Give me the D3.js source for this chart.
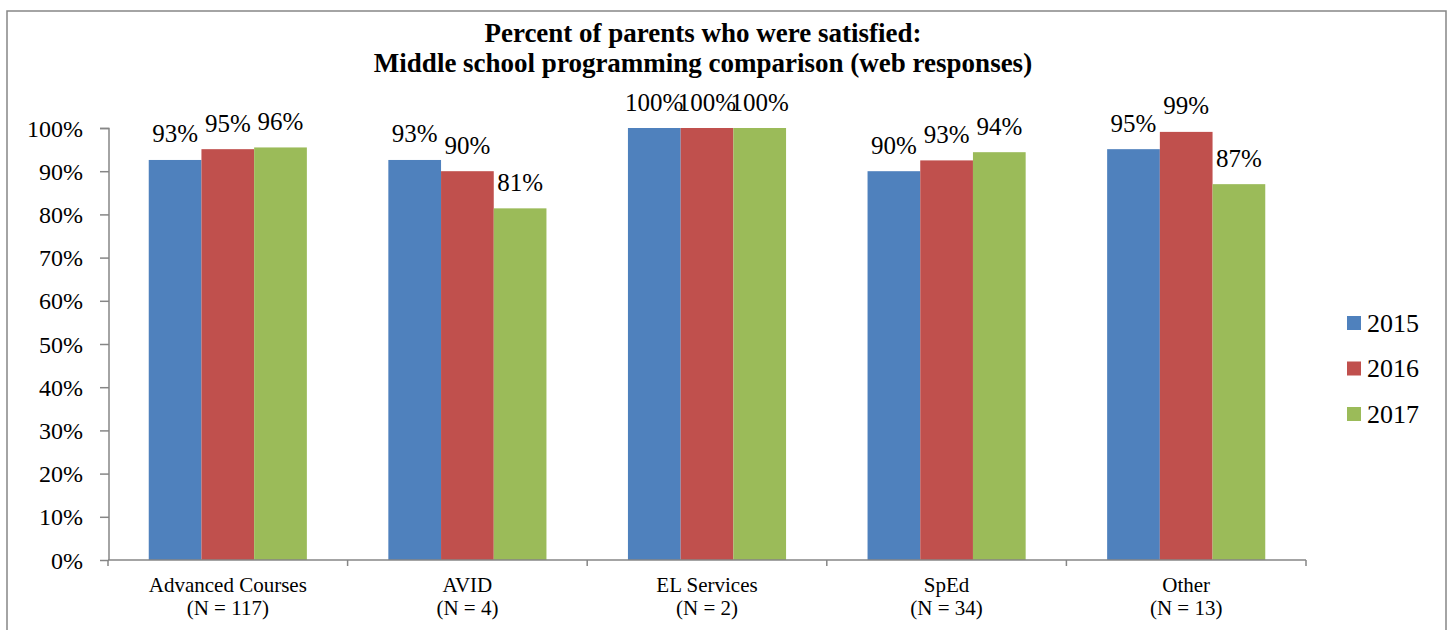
<!DOCTYPE html>
<html>
<head>
<meta charset="utf-8">
<script src="https://cdn.jsdelivr.net/npm/d3@7"></script>
<style>
  html, body { margin: 0; padding: 0; background: #fff; }
  svg { display: block; }
  svg text { font-family: "Liberation Serif", "Times New Roman", serif !important; }
</style>
</head>
<body>
<svg id="chart" width="1450" height="630"></svg>
<script>
const categories = ["Advanced Courses", "AVID", "EL Services", "SpEd", "Other"];
const categoryN = ["(N = 117)", "(N = 4)", "(N = 2)", "(N = 34)", "(N = 13)"];
const years = ["2015", "2016", "2017"];
const values2015 = [92.6, 92.6, 100, 90.0, 95.1];
const values2016 = [95.1, 90.0, 100, 92.5, 99.1];
const values2017 = [95.5, 81.4, 100, 94.4, 87.0];
const yTicks = [0, 10, 20, 30, 40, 50, 60, 70, 80, 90, 100];
const titleLines = ["Percent of parents who were satisfied:", "Middle school programming comparison (web responses)"];
const colors = ["#4F81BD", "#C0504D", "#9BBB59"];

const seriesValues = [values2015, values2016, values2017];
const svg = d3.select("#chart");
const axisColor = "#868686";
const FONT = "'Liberation Serif', 'Times New Roman', serif";

// outer border
svg.append("rect").attr("x", 7).attr("y", 11).attr("width", 1439).attr("height", 640)
  .attr("fill", "none").attr("stroke", axisColor).attr("stroke-width", 1.5);

// title
svg.append("g").selectAll("text").data(titleLines).join("text")
  .attr("x", 703).attr("y", (d, i) => 41.5 + i * 30)
  .attr("text-anchor", "middle").attr("font-weight", "bold").attr("font-size", 27)
  .style("font-family", FONT)
  .attr("fill", "#000").text(d => d);

const x0 = d3.scaleBand().domain(categories).range([108, 1306]).padding(0);
const x1 = d3.scaleBand().domain(years).range([0, x0.bandwidth()]).paddingInner(0).paddingOuter(0.773);
const y = d3.scaleLinear().domain([0, 100]).range([560, 128]);

// y axis
const yAxis = d3.axisLeft(y).tickValues(yTicks).tickSize(9).tickPadding(17).tickFormat(d => d + "%");
const yg = svg.append("g").attr("transform", "translate(109,0)").call(yAxis);
yg.attr("font-family", null);
yg.select(".domain").attr("stroke", axisColor).attr("stroke-width", 1.5).attr("d", "M-9,128.5H0V560");
yg.selectAll(".tick line").attr("stroke", axisColor).attr("stroke-width", 1.5);
yg.selectAll(".tick text").attr("font-size", 24).attr("fill", "#000")
  .style("font-family", FONT).attr("dy", "0.34em");

// bars
const groups = svg.append("g").selectAll("g").data(categories).join("g")
  .attr("transform", d => `translate(${x0(d)},0)`);
groups.selectAll("rect").data((c, ci) => years.map((yr, si) => ({ yr, si, v: seriesValues[si][ci] })))
  .join("rect")
  .attr("x", d => x1(d.yr)).attr("width", x1.bandwidth())
  .attr("y", d => y(d.v)).attr("height", d => y(0) - y(d.v))
  .attr("fill", d => colors[d.si]);
groups.selectAll("text.lbl").data((c, ci) => years.map((yr, si) => ({ yr, si, v: seriesValues[si][ci] })))
  .join("text").attr("class", "lbl")
  .attr("x", d => x1(d.yr) + x1.bandwidth() / 2).attr("y", d => y(d.v) - 17.5)
  .attr("text-anchor", "middle").attr("font-size", 25).attr("fill", "#000")
  .style("font-family", FONT)
  .text(d => Math.round(d.v) + "%");

// x axis
const xAxis = d3.axisBottom(x0).tickSize(0).tickFormat("");
const xg = svg.append("g").attr("transform", "translate(0,560)").call(xAxis);
xg.select(".domain").attr("stroke", axisColor).attr("stroke-width", 1.5).attr("d", "M108,0H1306");
const boundaries = categories.map(c => x0(c)).concat([x0.range()[1]]);
xg.selectAll("line.sep").data(boundaries).join("line").attr("class", "sep")
  .attr("x1", d => d).attr("x2", d => d).attr("y1", 0).attr("y2", 6)
  .attr("stroke", axisColor).attr("stroke-width", 1.5);
const cl = svg.append("g").selectAll("text").data(categories).join("text")
  .attr("x", d => x0(d) + x0.bandwidth() / 2).attr("text-anchor", "middle")
  .attr("font-size", 21).attr("fill", "#000").style("font-family", FONT);
cl.append("tspan").attr("x", d => x0(d) + x0.bandwidth() / 2).attr("y", 592).text(d => d);
cl.append("tspan").attr("x", d => x0(d) + x0.bandwidth() / 2).attr("y", 615).text((d, i) => categoryN[i]);

// legend
const lg = svg.append("g").selectAll("g").data(years).join("g")
  .attr("transform", (d, i) => `translate(1347,${316 + i * 45.5})`);
lg.append("rect").attr("width", 14).attr("height", 14).attr("fill", (d, i) => colors[i]);
lg.append("text").attr("x", 20).attr("y", 15.5).attr("font-size", 26).attr("fill", "#000")
  .style("font-family", FONT).text(d => d);
</script>
</body>
</html>
